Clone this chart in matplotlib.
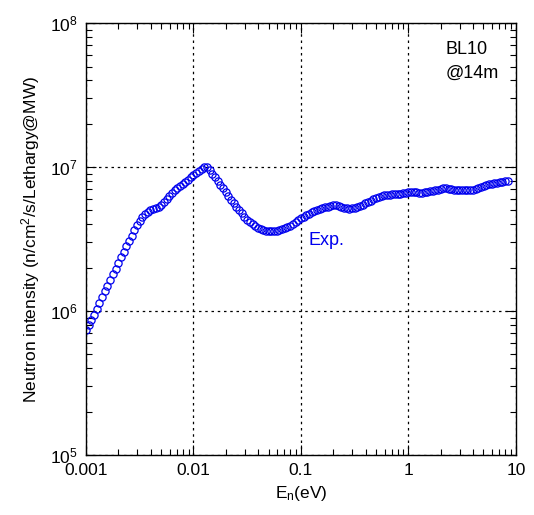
import matplotlib
matplotlib.use("Agg")
import matplotlib.pyplot as plt
from matplotlib.ticker import LogLocator, NullFormatter

plt.rcParams['font.family'] = ['Liberation Sans', 'DejaVu Sans']
plt.rcParams['mathtext.fontset'] = 'custom'
plt.rcParams['mathtext.rm'] = 'Liberation Sans'
plt.rcParams['mathtext.it'] = 'Liberation Sans:italic'

# ---------------- Dados ----------------
energia_ev = [
    1.000e-3, 1.059e-3, 1.122e-3, 1.189e-3, 1.259e-3, 1.334e-3, 1.413e-3, 1.496e-3, 1.585e-3, 1.679e-3,
    1.778e-3, 1.884e-3, 1.995e-3, 2.113e-3, 2.239e-3, 2.371e-3, 2.512e-3, 2.661e-3, 2.818e-3, 2.985e-3,
    3.162e-3, 3.350e-3, 3.548e-3, 3.758e-3, 3.981e-3, 4.217e-3, 4.467e-3, 4.732e-3, 5.012e-3, 5.309e-3,
    5.623e-3, 5.957e-3, 6.310e-3, 6.683e-3, 7.079e-3, 7.499e-3, 7.943e-3, 8.414e-3, 8.913e-3, 9.441e-3,
    1.000e-2, 1.059e-2, 1.122e-2, 1.189e-2, 1.259e-2, 1.334e-2, 1.413e-2, 1.496e-2, 1.585e-2, 1.679e-2,
    1.778e-2, 1.884e-2, 1.995e-2, 2.113e-2, 2.239e-2, 2.371e-2, 2.512e-2, 2.661e-2, 2.818e-2, 2.985e-2,
    3.162e-2, 3.350e-2, 3.548e-2, 3.758e-2, 3.981e-2, 4.217e-2, 4.467e-2, 4.732e-2, 5.012e-2, 5.309e-2,
    5.623e-2, 5.957e-2, 6.310e-2, 6.683e-2, 7.079e-2, 7.499e-2, 7.943e-2, 8.414e-2, 8.913e-2, 9.441e-2,
    1.000e-1, 1.059e-1, 1.122e-1, 1.189e-1, 1.259e-1, 1.334e-1, 1.413e-1, 1.496e-1, 1.585e-1, 1.679e-1,
    1.778e-1, 1.884e-1, 1.995e-1, 2.113e-1, 2.239e-1, 2.371e-1, 2.512e-1, 2.661e-1, 2.818e-1, 2.985e-1,
    3.162e-1, 3.350e-1, 3.548e-1, 3.758e-1, 3.981e-1, 4.217e-1, 4.467e-1, 4.732e-1, 5.012e-1, 5.309e-1,
    5.623e-1, 5.957e-1, 6.310e-1, 6.683e-1, 7.079e-1, 7.499e-1, 7.943e-1, 8.414e-1, 8.913e-1, 9.441e-1,
    1.000, 1.059, 1.122, 1.189, 1.259, 1.334, 1.413, 1.496, 1.585, 1.679,
    1.778, 1.884, 1.995, 2.113, 2.239, 2.371, 2.512, 2.661, 2.818, 2.985,
    3.162, 3.350, 3.548, 3.758, 3.981, 4.217, 4.467, 4.732, 5.012, 5.309,
    5.623, 5.957, 6.310, 6.683, 7.079, 7.499, 7.943, 8.414,
]

# intensidade em unidades de 1e6 n/cm2/s/Lethargy@MW
intensidade_1e6 = [
    0.738, 0.804, 0.873, 0.944, 1.029, 1.131, 1.243, 1.368, 1.503, 1.652,
    1.801, 1.967, 2.158, 2.364, 2.577, 2.810, 3.062, 3.339, 3.640, 3.943,
    4.251, 4.488, 4.725, 4.886, 5.044, 5.133, 5.225, 5.309, 5.420, 5.733,
    6.043, 6.322, 6.600, 6.890, 7.160, 7.393, 7.645, 7.906, 8.190, 8.470,
    8.773, 9.085, 9.396, 9.732, 10.08, 10.02, 9.532, 9.028, 8.557, 8.059,
    7.546, 7.114, 6.707, 6.310, 5.947, 5.596, 5.292, 5.028, 4.770, 4.531,
    4.305, 4.157, 4.014, 3.881, 3.783, 3.700, 3.652, 3.617, 3.600, 3.594,
    3.594, 3.617, 3.646, 3.705, 3.771, 3.831, 3.906, 4.040, 4.176, 4.284,
    4.396, 4.509, 4.626, 4.754, 4.846, 4.932, 5.012, 5.100, 5.191, 5.283,
    5.326, 5.369, 5.412, 5.430, 5.386, 5.317, 5.225, 5.175, 5.158, 5.183,
    5.233, 5.292, 5.369, 5.482, 5.605, 5.724, 5.853, 6.014, 6.140, 6.249,
    6.322, 6.383, 6.413, 6.442, 6.463, 6.494, 6.525, 6.546, 6.578, 6.620,
    6.674, 6.707, 6.707, 6.674, 6.610, 6.642, 6.696, 6.759, 6.813, 6.868,
    6.934, 6.990, 7.068, 7.193, 7.216, 7.090, 7.023, 6.990, 6.956, 6.923,
    6.923, 6.923, 6.923, 6.923, 6.990, 7.057, 7.148, 7.263, 7.428, 7.535,
    7.595, 7.668, 7.729, 7.791, 7.867, 7.930, 7.994, 8.071,
]

intensidade = [v * 1e6 for v in intensidade_1e6]

# ---------------- Gráfico ----------------
fig = plt.figure(figsize=(5.34, 5.15), dpi=100)
ax = fig.add_axes([0.161, 0.1165, 0.805, 0.8385])

ax.plot(energia_ev, intensidade, linestyle='none', marker='o', markersize=5.2,
        markerfacecolor='none', markeredgecolor='#0000ee', markeredgewidth=0.9)

ax.set_xscale('log')
ax.set_yscale('log')
ax.set_xlim(1e-3, 10)
ax.set_ylim(1e5, 1e8)

ax.xaxis.set_minor_locator(LogLocator(base=10, subs=range(2, 10), numticks=10))
ax.xaxis.set_minor_formatter(NullFormatter())
ax.set_xticks([1e-3, 1e-2, 1e-1, 1, 10])
ax.set_xticklabels(["0.001", "0.01", "0.1", "1", "10"])
ax.yaxis.set_minor_locator(LogLocator(base=10, subs=range(2, 10), numticks=10))
ax.yaxis.set_minor_formatter(NullFormatter())

ax.tick_params(which='both', direction='in', top=True, right=True, labelsize=12.5)
ax.tick_params(which='major', length=7, width=0.8, pad=6)
ax.tick_params(which='minor', length=4, width=0.8)

ax.grid(True, which='major', color='black', linestyle=(0, (2, 3)), linewidth=0.9)

for s in ax.spines.values():
    s.set_linewidth(1.0)

ax.set_xlabel("E$_\\mathrm{n}$(eV)", fontsize=12.5, labelpad=4)
ax.set_ylabel("Neutron intensity (n/cm$^\\mathrm{2}$/s/Lethargy@MW)", fontsize=12.5, labelpad=6)

ax.text(0.1186, 3.1e6, "Exp.", color='#0000ee', fontsize=13, va='center', ha='left')
ax.text(2.2, 5.4e7, "BL10\n@14m", fontsize=13, va='center', ha='left', linespacing=1.5)

fig.savefig("out.png", dpi=100)
